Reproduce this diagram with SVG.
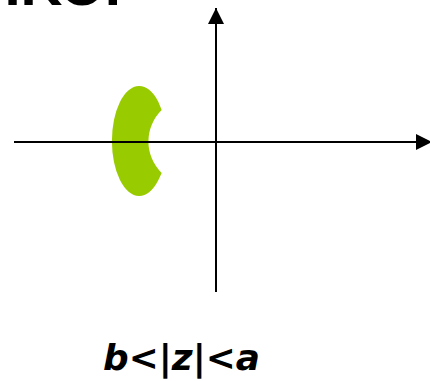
<svg xmlns="http://www.w3.org/2000/svg" width="430" height="381" viewBox="0 0 430 381">
  <style>
    .axis { stroke: #000; stroke-width: 2; fill: none; }
    .title { font-family: "Liberation Sans", Arial, sans-serif; font-weight: bold; font-size: 58px; fill: #000; }
    .label { font-family: "DejaVu Sans", "Liberation Sans", sans-serif; font-weight: bold; font-style: italic; font-size: 35px; fill: #000; }
  </style>
  <defs>
    <marker id="arrow" markerUnits="userSpaceOnUse" markerWidth="16" markerHeight="16" refX="16" refY="8" orient="auto">
      <path d="M0,0 L16,8 L0,16 Z" fill="#000"/>
    </marker>
  </defs>
  <rect width="430" height="381" fill="#fff"/>
  <text class="title" x="121" y="5" text-anchor="end">ΙΚΟΙ</text>
  <g id="region">
    <path d="M158.3,101.7 A27.3,55 0 1,0 158.3,180.3 L161.7,173 A44,44 0 0,1 161.7,110 Z" fill="#99CC00"/>
  </g>
  <g id="connectors">
    <line class="axis" x1="14" y1="142" x2="432" y2="142" marker-end="url(#arrow)"/>
    <line class="axis" x1="216" y1="292" x2="216" y2="8" marker-end="url(#arrow)"/>
  </g>
  <g id="caption">
    <text class="label" x="103" y="370" textLength="157" lengthAdjust="spacingAndGlyphs">b&lt;|z|&lt;a</text>
  </g>
</svg>
